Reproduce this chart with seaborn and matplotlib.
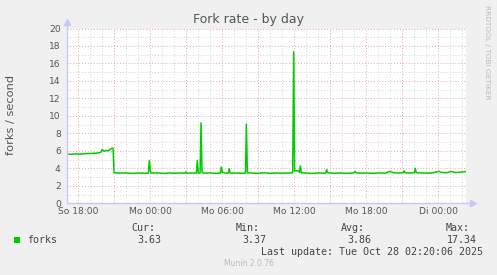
import matplotlib
matplotlib.use("Agg")
import matplotlib.pyplot as plt
import seaborn as sns
from matplotlib.ticker import MultipleLocator, FixedLocator

# ---- data (hours since So 00:00, forks/second) ----
hours = [17.08, 17.4, 17.8, 18.2, 18.6, 19.0, 19.4, 19.83, 19.92, 20.0, 20.17, 20.33, 20.5, 20.67, 20.83, 20.92,
         21.0, 21.5, 22.0, 22.5, 23.0, 23.5, 23.86, 23.94, 24.03, 24.11, 24.6, 25.1, 25.6, 26.1, 26.6,
         26.9, 26.97, 27.05, 27.5, 27.86, 27.94, 28.02, 28.17, 28.25, 28.33, 28.42, 29.0, 29.5, 29.86,
         29.94, 30.02, 30.3, 30.52, 30.6, 30.68, 31.0, 31.5, 31.95, 32.03, 32.11, 32.5, 33.0, 33.5, 34.0,
         34.5, 35.0, 35.5, 35.89, 35.97, 36.05, 36.33, 36.45, 36.53, 36.61, 37.0, 37.5, 38.0, 38.64, 38.72,
         38.8, 39.3, 39.8, 40.3, 41.0, 41.08, 41.16, 41.6, 42.1, 42.6, 43.1, 43.6, 44.0, 44.3, 44.7, 45.1,
         45.17, 45.25, 45.6, 46.02, 46.1, 46.18, 46.6, 47.1, 47.6, 48.06, 48.3, 48.7, 49.14, 49.4, 49.8, 50.31]
forks = [5.65, 5.60, 5.66, 5.62, 5.68, 5.70, 5.72, 5.80, 5.85, 6.15, 5.95, 6.05, 6.00, 6.15, 6.30, 6.30,
         3.50, 3.45, 3.48, 3.42, 3.47, 3.44, 3.45, 4.90, 3.70, 3.45, 3.48, 3.42, 3.47, 3.44, 3.48,
         3.45, 3.60, 3.45, 3.47, 3.45, 4.90, 3.45, 3.45, 9.20, 3.60, 3.45, 3.48, 3.43, 3.45,
         4.15, 3.55, 3.45, 3.45, 3.95, 3.45, 3.47, 3.43, 3.45, 9.05, 3.50, 3.46, 3.44, 3.48, 3.43,
         3.47, 3.44, 3.46, 3.50, 17.34, 3.70, 3.72, 3.55, 4.27, 3.50, 3.46, 3.42, 3.47, 3.45, 3.85,
         3.50, 3.44, 3.47, 3.43, 3.48, 3.65, 3.48, 3.45, 3.47, 3.43, 3.48, 3.45, 3.65, 3.50, 3.46, 3.50,
         3.70, 3.50, 3.47, 3.50, 4.00, 3.50, 3.48, 3.45, 3.50, 3.65, 3.52, 3.50, 3.65, 3.52, 3.55, 3.63]

tick_hours = [18, 24, 30, 36, 42, 48]
tick_labels = ["So 18:00", "Mo 00:00", "Mo 06:00", "Mo 12:00", "Mo 18:00", "Di 00:00"]
legend_name = "forks"
stat_names = ["Cur:", "Min:", "Avg:", "Max:"]
stat_values = ["3.63", "3.37", "3.86", "17.34"]

sns.set_style("white")
plt.rcParams["font.family"] = ["DejaVu Sans"]

W, H = 497, 275
fig = plt.figure(figsize=(W / 100, H / 100), dpi=100, facecolor="#F0F0F0")
ax = fig.add_axes([67 / W, (H - 203.3) / H, (466 - 67) / W, (203.3 - 28.5) / H])
ax.set_facecolor("white")

ax.set_xlim(17.08, 50.33)
ax.set_ylim(0, 20)

major_x = [18, 21, 24, 27, 30, 33, 36, 39, 42, 45, 48]
ax.xaxis.set_major_locator(FixedLocator(major_x))
ax.xaxis.set_minor_locator(MultipleLocator(1))
ax.yaxis.set_major_locator(MultipleLocator(2))
ax.yaxis.set_minor_locator(MultipleLocator(1))
ax.grid(which="minor", color="#d4d4d4", linestyle=(0, (1, 2)), linewidth=0.7)
ax.grid(which="major", color="#e9a3a3", linestyle=(0, (1, 2)), linewidth=0.7)
ax.set_axisbelow(True)

sns.lineplot(x=hours, y=forks, ax=ax, color="#00CC00", linewidth=1.1, sort=False)

ax.set_xticks(major_x)
ax.set_xticklabels([tick_labels[tick_hours.index(h)] if h in tick_hours else "" for h in major_x])
ax.tick_params(axis="x", which="major", length=2, color="#e08080", labelsize=6.6,
               labelcolor="#555555", pad=2, direction="inout")
ax.tick_params(axis="x", which="minor", length=0)
ax.tick_params(axis="y", which="major", length=2, color="#aaaaaa", labelsize=6.6,
               labelcolor="#555555", pad=2.5)
ax.tick_params(axis="y", which="minor", length=0)

for s in ax.spines.values():
    s.set_visible(False)

axis_col = "#c8c8f4"
ax.plot([0, 0], [0, 1.03], transform=ax.transAxes, color=axis_col, lw=1, clip_on=False)
ax.plot([0, 1.015], [0, 0], transform=ax.transAxes, color=axis_col, lw=1, clip_on=False)
ax.plot([0], [1.035], transform=ax.transAxes, marker="^", color=axis_col, ms=4, clip_on=False)
ax.plot([1.018], [0], transform=ax.transAxes, marker=">", color=axis_col, ms=4, clip_on=False)

ax.set_ylabel("forks / second", fontsize=8.2, color="#555555")
ax.yaxis.set_label_coords((11 - 67) / 399, (203.3 - 115) / (203.3 - 28.5))
ax.yaxis.label.set_va("center")

fig.text(248.5 / W, 1 - 19 / H, "Fork rate - by day", ha="center", va="center",
         fontsize=9, color="#555555")
fig.text(487.5 / W, 1 - 5 / H, "RRDTOOL / TOBI OETIKER", rotation=270, ha="center", va="top",
         fontsize=5.3, color="#bbbbbb")

mono = "DejaVu Sans Mono"
tc = "#444444"
fig.patches.append(plt.Rectangle((14 / W, 1 - 243 / H), 6 / W, 6 / H, transform=fig.transFigure,
                                 facecolor="#00CC00", edgecolor="none"))
fig.text(27 / W, 1 - 240 / H, legend_name, family=mono, fontsize=7.2, color=tc, va="center", ha="left")
stat_right = [155, 260, 365, 470]
val_right = [161, 266, 371, 477]
for n, v, xr, vr in zip(stat_names, stat_values, stat_right, val_right):
    fig.text(xr / W, 1 - 228 / H, n, family=mono, fontsize=7.2, color=tc, va="center", ha="right")
    fig.text(vr / W, 1 - 240 / H, v, family=mono, fontsize=7.2, color=tc, va="center", ha="right")
fig.text(483 / W, 1 - 252 / H, "Last update: Tue Oct 28 02:20:06 2025", family=mono,
         fontsize=7.2, color=tc, va="center", ha="right")
fig.text(248.5 / W, 1 - 264 / H, "Munin 2.0.76", fontsize=5.5, color="#bbbbbb", va="center", ha="center")

fig.savefig("out.png", dpi=100, facecolor=fig.get_facecolor())
